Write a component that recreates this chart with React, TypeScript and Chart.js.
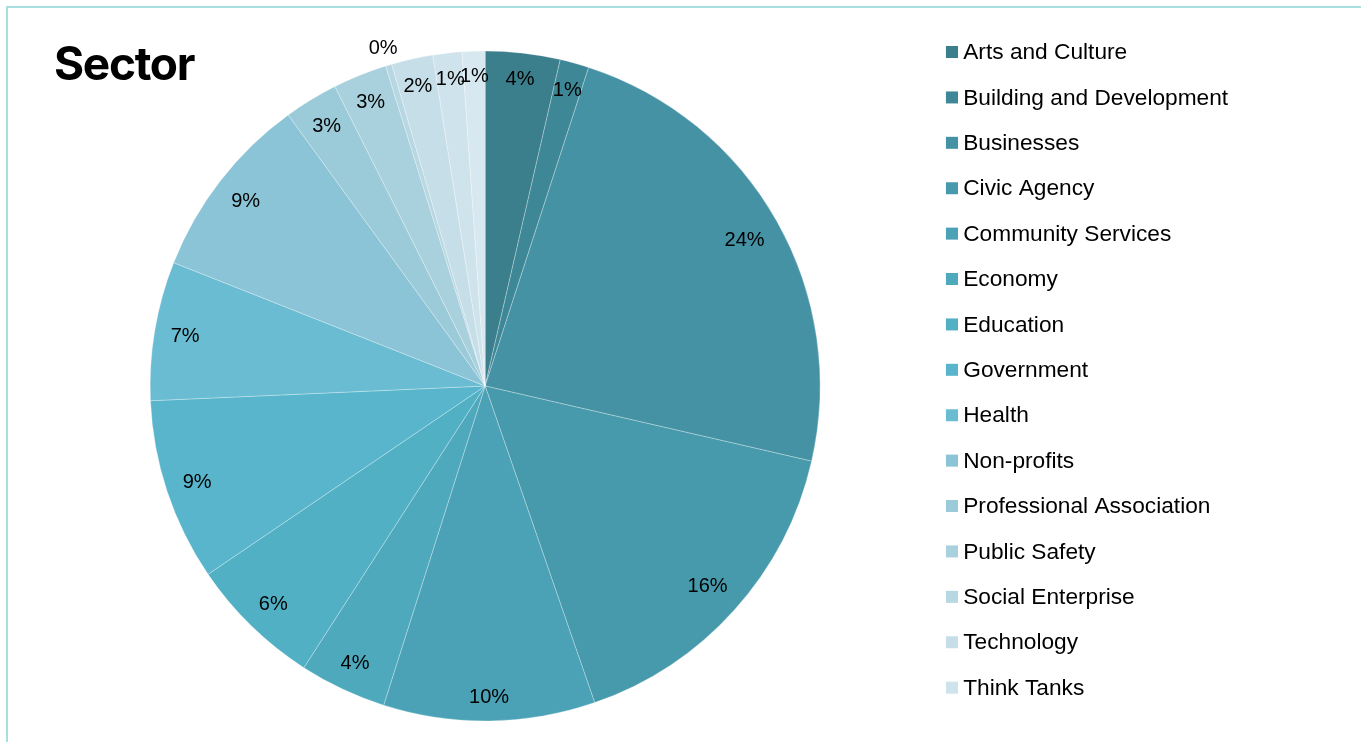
import React, { useEffect, useRef } from "react";
import { Chart, registerables } from "chart.js";

Chart.register(...registerables);

const title = "Sector";

const categories = [
  "Arts and Culture",
  "Building and Development",
  "Businesses",
  "Civic Agency",
  "Community Services",
  "Economy",
  "Education",
  "Government",
  "Health",
  "Non-profits",
  "Professional Association",
  "Public Safety",
  "Social Enterprise",
  "Technology",
  "Think Tanks",
  "Other",
];

const shares = [3.6, 1.4, 23.6, 16.1, 10.2, 4.2, 6.4, 8.8, 6.7, 9.0, 2.6, 2.6, 0.3, 2.0, 1.4, 1.1];

const colors = [
  "#3b7f8d",
  "#3e8796",
  "#4592a5",
  "#479aab",
  "#4ba2b6",
  "#4fa9bd",
  "#52b0c5",
  "#58b5cb",
  "#6abcd2",
  "#8ac4d6",
  "#9bcad9",
  "#a9d0dd",
  "#b7d7e2",
  "#c6dee8",
  "#cfe3ec",
  "#d8e8f0",
];

const legendCount = 15;

// legend marker: a 12px square drawn in the right half of a 24px-wide image
function makeMarker(color: string) {
  const c = document.createElement("canvas");
  c.width = 24;
  c.height = 16;
  const g = c.getContext("2d")!;
  g.fillStyle = color;
  g.fillRect(12, 1, 12, 12);
  return c;
}

const sliceLabels = {
  id: "sliceLabels",
  afterDatasetsDraw(chart: any) {
    const ctx = chart.ctx;
    const meta = chart.getDatasetMeta(0);
    const data = chart.data.datasets[0].data as number[];
    const total = data.reduce((a, b) => a + b, 0);
    ctx.save();
    ctx.font = "20px 'Liberation Sans', Arial, sans-serif";
    ctx.fillStyle = "#000";
    ctx.textAlign = "center";
    ctx.textBaseline = "middle";
    meta.data.forEach((arc: any, i: number) => {
      const p = arc.getProps(["x", "y", "startAngle", "endAngle", "outerRadius"], true);
      const mid = (p.startAngle + p.endAngle) / 2;
      const pct = (data[i] / total) * 100;
      const text = Math.round(pct) + "%";
      const hw = ctx.measureText(text).width / 2;
      const hh = 9;
      const extent = hw * Math.abs(Math.cos(mid)) + hh * Math.abs(Math.sin(mid));
      const r = pct < 0.5 ? p.outerRadius + 19 : p.outerRadius - 15 - extent;
      const x = p.x + Math.cos(mid) * r;
      const y = p.y + Math.sin(mid) * r + 1;
      ctx.fillText(text, x, y);
    });
    ctx.restore();
  },
};

export default function App() {
  const ref = useRef<HTMLCanvasElement | null>(null);

  useEffect(() => {
    if (!ref.current) return;
    const markers = colors.map(makeMarker);
    const chart = new Chart(ref.current, {
      type: "pie",
      data: {
        labels: categories,
        datasets: [
          {
            data: shares,
            backgroundColor: colors,
            borderColor: "rgba(255,255,255,0.35)",
            borderWidth: 0.8,
            radius: 335,
          } as any,
        ],
      },
      options: {
        responsive: false,
        animation: false,
        layout: { padding: { top: 18.95, bottom: 16.95, left: 53.1, right: 122.9 } },
        plugins: {
          tooltip: { enabled: false },
          legend: {
            position: "right",
            align: "start",
            labels: {
              usePointStyle: true,
              boxWidth: 12,
              boxHeight: 12,
              padding: 22.7,
              color: "#000",
              font: { family: "'Liberation Sans', Arial, sans-serif", size: 22.7 },
              filter: (item: any) => item.index < legendCount,
              generateLabels: (c: any) => {
                const base = (Chart as any).overrides.pie.plugins.legend.labels.generateLabels(c);
                return base.map((l: any) => ({
                  ...l,
                  lineWidth: 0,
                  strokeStyle: "rgba(0,0,0,0)",
                  pointStyle: markers[l.index],
                }));
              },
            },
          },
        },
      },
      plugins: [sliceLabels],
    });
    return () => chart.destroy();
  }, []);

  return (
    <div style={{ position: "fixed", inset: 0, background: "#fff", overflow: "hidden" }}>
      <div
        style={{
          position: "absolute",
          left: 6,
          top: 6,
          right: -10,
          bottom: -10,
          borderTop: "2px solid #a9dfe0",
          borderLeft: "2px solid #a9dfe0",
        }}
      />
      <canvas
        ref={ref}
        width={1361}
        height={770}
        style={{ position: "absolute", left: 0, top: 0, width: 1361, height: 770, display: "block" }}
      />
      <div
        style={{
          position: "absolute",
          left: 54,
          top: 39.5,
          fontFamily: "Inter, 'Open Sans', sans-serif",
          fontWeight: 700,
          fontSize: 46,
          letterSpacing: "-1.3px",
          lineHeight: 1,
          color: "#000",
        }}
      >
        {title}
      </div>
    </div>
  );
}
